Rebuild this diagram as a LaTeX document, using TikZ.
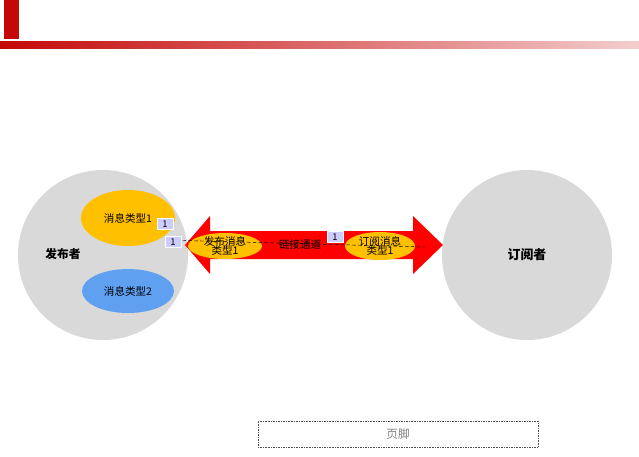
\documentclass[tikz,border=0pt]{standalone}
\usepackage{fontspec}
\setmainfont{Noto Sans CJK SC}
\definecolor{myred}{RGB}{196,8,8}
\definecolor{myyellow}{RGB}{255,192,0}
\definecolor{myblue}{RGB}{95,160,240}
\definecolor{mygray}{RGB}{217,217,217}
\begin{document}
\begin{tikzpicture}[x=0.3mm, y=-0.3mm, font=\fontsize{9}{10}\selectfont,
    tag/.style={fill=blue!20, draw=white, font=\fontsize{8}{8}\selectfont, inner sep=2pt, minimum width=14pt}]
    \useasboundingbox (0,0) rectangle (639,456);
    % Header
    \fill[myred] (4,0) rectangle (19,39);
    \shade[left color=myred, right color=myred!20] (0,41) rectangle (639,48);

    % Publisher
    \fill[mygray] (103,255) circle (85);
    \node[font=\fontsize{10}{10}\selectfont\bfseries] (pub) at (63,254) {发布者};
    \fill[myyellow] (128,218) ellipse (47 and 28);
    \node (t1) at (128,218) {消息类型1};
    \fill[myblue] (128,291) ellipse (46 and 22);
    \node (t2) at (128,291) {消息类型2};

    % Subscriber
    \fill[mygray] (527,255) circle (85);
    \node[font=\fontsize{11}{11}\selectfont\bfseries] (sub) at (527,255) {订阅者};

    % Channel
    \fill[red] (185,245) -- (210,216) -- (210,231) -- (413,231) -- (413,216) -- (443,245)
        -- (413,274) -- (413,259) -- (210,259) -- (210,274) -- cycle;
    \fill[myyellow] (225,246) ellipse (37 and 13);
    \node[align=center, inner sep=0pt] (pm) at (225,246) {发布消息\\[-2pt]类型1};
    \fill[myyellow] (380,246) ellipse (35 and 14);
    \node[align=center, inner sep=0pt] (sm) at (380,246) {订阅消息\\[-2pt]类型1};
    \node (link) at (300,244) {链接通道};
    \draw[densely dashed, thin] (165,240) -- (425,247);

    % Tags
    \node[tag] (n1) at (165,224) {1};
    \node[tag] (n2) at (173,242) {1};
    \node[tag] (n3) at (335,237) {1};

    % Footer
    \node[draw=black!70, densely dotted, minimum width=280*0.3mm, minimum height=26*0.3mm,
          text=gray, font=\fontsize{10}{10}\selectfont] (foot) at (398,434) {页脚};
\end{tikzpicture}
\end{document}
